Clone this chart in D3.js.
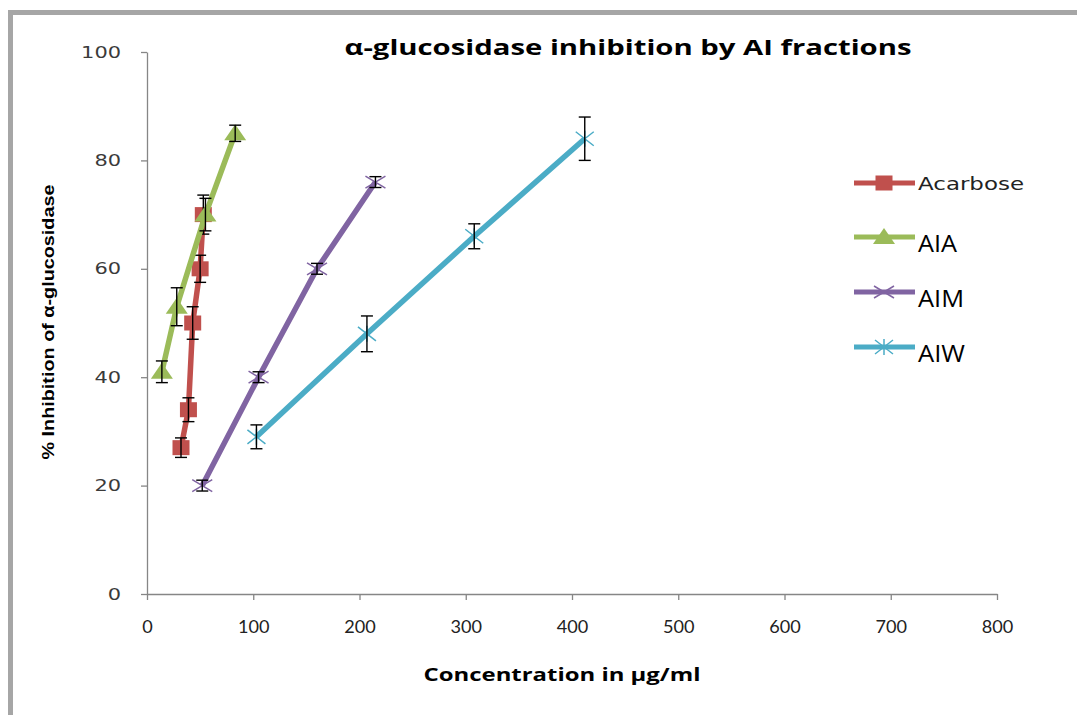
<!DOCTYPE html>
<html>
<head>
<meta charset="utf-8">
<script src="https://cdn.jsdelivr.net/npm/d3@7"></script>
<style>
  body { margin: 0; background: #fff; }
  svg { display: block; }
</style>
</head>
<body>
<svg width="1077" height="715"></svg>
<script>
// values
let seriesNames = ['Acarbose', 'AIA', 'AIM', 'AIW'];
let acarboseX = [32, 39, 43, 50, 53];
let acarboseY = [27, 34, 50, 60, 70];
let acarboseErr = [1.8, 2.2, 3, 2.5, 3.6];
let aiaX = [14, 28, 55, 83];
let aiaY = [41, 53, 70, 85];
let aiaErr = [2, 3.5, 3, 1.5];
let aimX = [52, 105, 160, 215];
let aimY = [20, 40, 60, 76];
let aimErr = [1, 1, 1, 1];
let aiwX = [103, 207, 308, 412];
let aiwY = [29, 48, 66, 84];
let aiwErr = [2.2, 3.3, 2.3, 4];
let xTicks = [0, 100, 200, 300, 400, 500, 600, 700, 800];
let yTicks = [0, 20, 40, 60, 80, 100];
let colors = ['#c0504d', '#9bbb59', '#8064a2', '#4bacc6'];
let markers = ['square', 'triangle', 'x', 'star'];

let series = [
  {xs: acarboseX, ys: acarboseY, err: acarboseErr},
  {xs: aiaX, ys: aiaY, err: aiaErr},
  {xs: aimX, ys: aimY, err: aimErr},
  {xs: aiwX, ys: aiwY, err: aiwErr}
].map(function(s, i) {
  return {
    name: seriesNames[i], color: colors[i], marker: markers[i],
    points: s.xs.map(function(x, j) { return {x: x, y: s.ys[j], e: s.err[j]}; })
  };
});

let svg = d3.select('svg');

// outer frame (top and left only)
svg.append('rect').attr('x', 8).attr('y', 10).attr('width', 1069).attr('height', 5).attr('fill', '#a6a6a6');
svg.append('rect').attr('x', 8).attr('y', 10).attr('width', 5).attr('height', 705).attr('fill', '#a6a6a6');

let x = d3.scaleLinear().domain([0, 800]).range([147, 997]);
let y = d3.scaleLinear().domain([0, 100]).range([594, 52]);

// the source picture is stretched sideways, so text gets widened a bit
let xAxis = svg.append('g')
  .attr('transform', 'translate(0,' + y(0) + ')')
  .call(d3.axisBottom(x).tickValues(xTicks).tickSize(6).tickSizeOuter(0).tickPadding(20));
xAxis.selectAll('line, path').attr('stroke', '#868686').attr('stroke-width', 1.3);
xAxis.selectAll('text')
  .attr('font-family', 'Lato, "Open Sans", sans-serif')
  .attr('font-size', 18).attr('fill', '#222')
  .attr('textLength', function() { return this.textContent.length * 10.5; })
  .attr('lengthAdjust', 'spacingAndGlyphs');

let yAxis = svg.append('g')
  .attr('transform', 'translate(' + x(0) + ',0)')
  .call(d3.axisLeft(y).tickValues(yTicks).tickSize(6).tickSizeOuter(0).tickPadding(20));
yAxis.selectAll('line, path').attr('stroke', '#868686').attr('stroke-width', 1.3);
yAxis.selectAll('text')
  .attr('font-family', '"DejaVu Sans", Verdana, sans-serif')
  .attr('font-size', 16).attr('fill', '#3a3a3a')
  .attr('textLength', function() { return this.textContent.length * 13.3; })
  .attr('lengthAdjust', 'spacingAndGlyphs');

// titles
svg.append('text')
  .attr('x', 628).attr('y', 55)
  .attr('text-anchor', 'middle')
  .attr('font-family', '"Open Sans", sans-serif')
  .attr('font-weight', 'bold').attr('font-size', 21)
  .attr('textLength', 567).attr('lengthAdjust', 'spacingAndGlyphs')
  .text('α-glucosidase inhibition by AI fractions');

svg.append('text')
  .attr('x', 562).attr('y', 681)
  .attr('text-anchor', 'middle')
  .attr('font-family', '"Open Sans", sans-serif')
  .attr('font-weight', 'bold').attr('font-size', 17)
  .attr('textLength', 277).attr('lengthAdjust', 'spacingAndGlyphs')
  .text('Concentration in μg/ml');

svg.append('text')
  .attr('transform', 'translate(54,322) rotate(-90)')
  .attr('text-anchor', 'middle')
  .attr('font-family', '"Liberation Sans Narrow", "Liberation Sans", Arial, sans-serif')
  .attr('font-weight', 'bold').attr('font-size', 17)
  .attr('textLength', 275).attr('lengthAdjust', 'spacingAndGlyphs')
  .text('% Inhibition of α-glucosidase');

function drawMarker(g, type, color) {
  if (type === 'square') {
    g.append('rect').attr('x', -8.5).attr('y', -7.5).attr('width', 17).attr('height', 15).attr('fill', color);
  } else if (type === 'triangle') {
    g.append('path').attr('d', 'M0,-9L11,7L-11,7Z').attr('fill', color);
  } else if (type === 'x') {
    g.append('path').attr('d', 'M-10,-6L10,6M-10,6L10,-6').attr('stroke', color).attr('stroke-width', 1.5).attr('fill', 'none');
  } else {
    g.append('path').attr('d', 'M-9,-7L9,7M-9,7L9,-7M0,-8L0,8').attr('stroke', color).attr('stroke-width', 1.5).attr('fill', 'none');
  }
}

let line = d3.line()
  .x(function(d) { return x(d.x); })
  .y(function(d) { return y(d.y); });

series.forEach(function(s) {
  let g = svg.append('g');
  g.append('path')
    .datum(s.points)
    .attr('fill', 'none')
    .attr('stroke', s.color)
    .attr('stroke-width', 5.5)
    .attr('stroke-linejoin', 'round')
    .attr('d', line);

  g.selectAll('.mk')
    .data(s.points)
    .enter().append('g')
    .attr('transform', function(d) { return 'translate(' + x(d.x) + ',' + y(d.y) + ')'; })
    .each(function() { drawMarker(d3.select(this), s.marker, s.color); });

  let eb = g.selectAll('.eb')
    .data(s.points)
    .enter().append('g')
    .attr('stroke', '#000').attr('stroke-width', 1.4);
  eb.append('line')
    .attr('x1', function(d) { return x(d.x); }).attr('x2', function(d) { return x(d.x); })
    .attr('y1', function(d) { return y(d.y + d.e); }).attr('y2', function(d) { return y(d.y - d.e); });
  eb.append('line')
    .attr('x1', function(d) { return x(d.x) - 6; }).attr('x2', function(d) { return x(d.x) + 6; })
    .attr('y1', function(d) { return y(d.y + d.e); }).attr('y2', function(d) { return y(d.y + d.e); });
  eb.append('line')
    .attr('x1', function(d) { return x(d.x) - 6; }).attr('x2', function(d) { return x(d.x) + 6; })
    .attr('y1', function(d) { return y(d.y - d.e); }).attr('y2', function(d) { return y(d.y - d.e); });
});

// legend
let legendY = [183, 237, 292, 347];
let legendWidths = [106, 39, 46, 47];
series.forEach(function(s, i) {
  let lg = svg.append('g').attr('transform', 'translate(0,' + legendY[i] + ')');
  lg.append('line').attr('x1', 854).attr('x2', 915).attr('y1', 0).attr('y2', 0)
    .attr('stroke', s.color).attr('stroke-width', 5);
  let m = lg.append('g').attr('transform', 'translate(884,0)');
  drawMarker(m, s.marker, s.color);
  let t = lg.append('text').attr('x', 918).text(s.name)
    .attr('textLength', legendWidths[i]).attr('lengthAdjust', 'spacingAndGlyphs');
  if (i === 0) {
    t.attr('y', 7).attr('font-family', '"DejaVu Sans", Verdana, sans-serif').attr('font-size', 18).attr('fill', '#222');
  } else {
    t.attr('y', 15).attr('font-family', '"Open Sans", sans-serif').attr('font-size', 24).attr('fill', '#000');
  }
});
</script>
</body>
</html>
